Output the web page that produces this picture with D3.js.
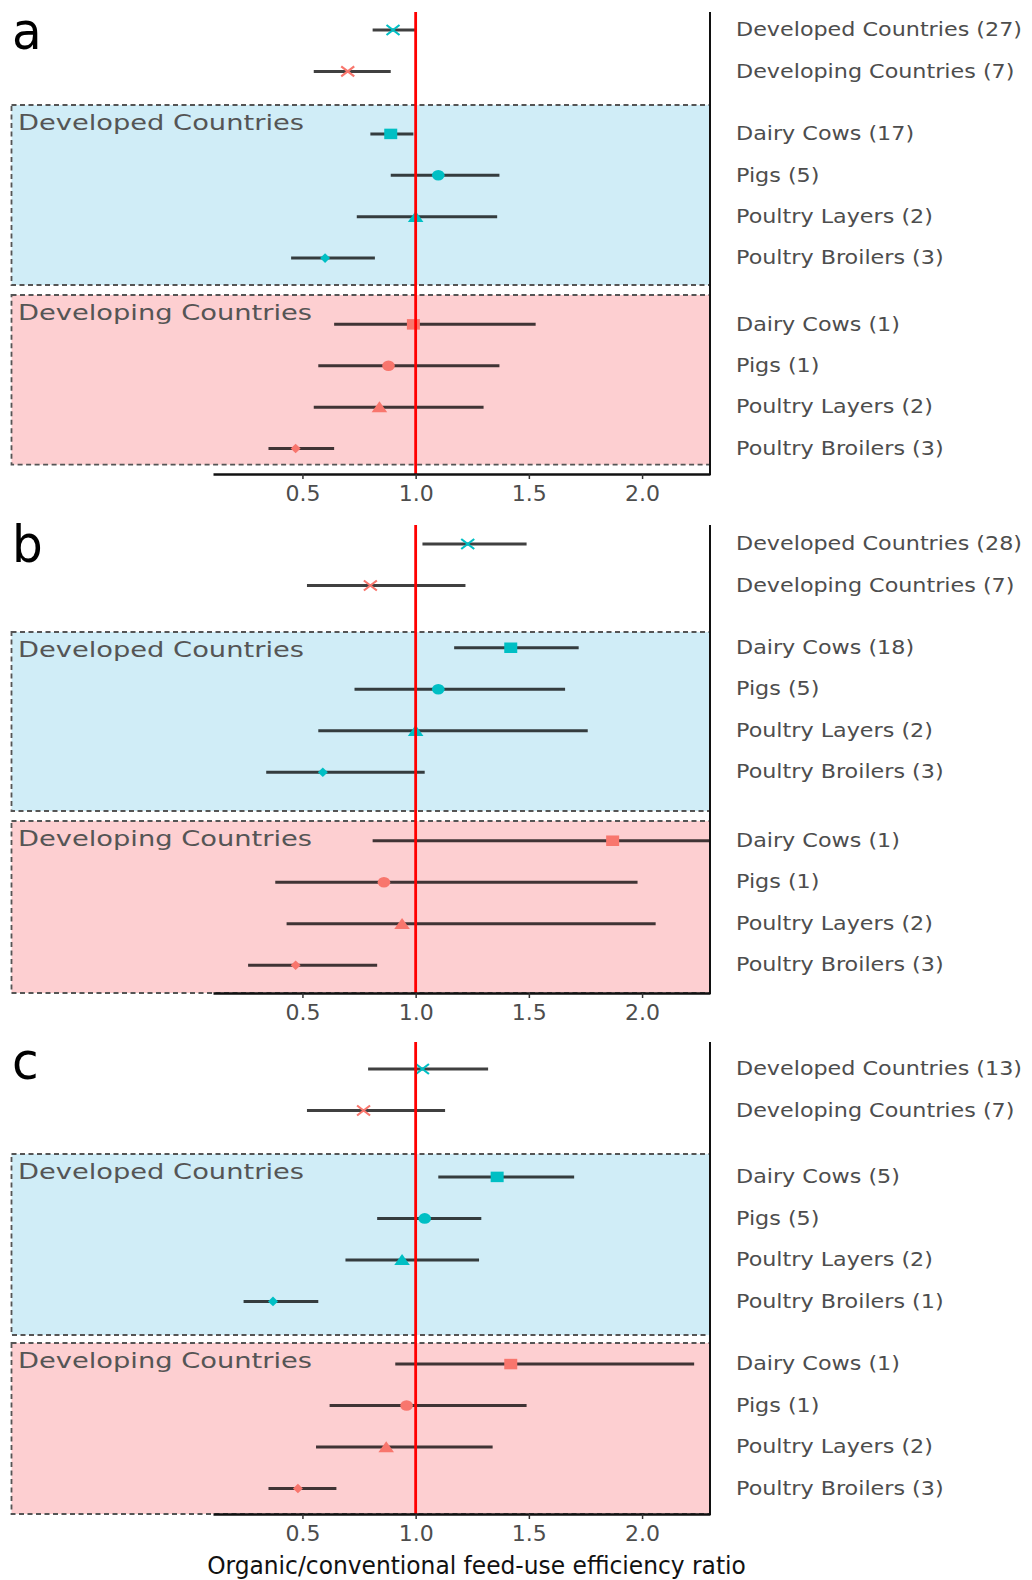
<!DOCTYPE html>
<html lang="en">
<head>
<meta charset="utf-8">
<title>Organic/conventional feed-use efficiency ratio</title>
<script src="https://d3js.org/d3.v7.min.js"></script>
<style>
  body { margin: 0; background: #fff; }
  svg { display: block; }
  .row-label { font-family: "DejaVu Sans", sans-serif; font-size: 20px; fill: #4d4d4d; }
  .box-label { font-family: "DejaVu Sans", sans-serif; font-size: 21px; fill: #555; }
  .panel-letter { font-family: "DejaVu Sans", sans-serif; font-size: 51px; fill: #000; }
  .tick text { font-family: "DejaVu Sans", sans-serif; font-size: 22px; fill: #4d4d4d; }
  .axis-title { font-family: "DejaVu Sans Condensed", "DejaVu Sans", sans-serif; font-stretch: condensed; font-size: 25px; fill: #111; }
</style>
</head>
<body>
<svg width="1032" height="1580"></svg>
<script>
// categories
const regions = ["Developed Countries", "Developing Countries"];
const species = ["Dairy Cows", "Pigs", "Poultry Layers", "Poultry Broilers"];
const panelNames = ["a", "b", "c"];
const tickValues = [0.5, 1.0, 1.5, 2.0];

// row order in every panel: developed, developing, then developed x 4 species, developing x 4 species
// number of studies
const countsA = [27, 7, 17, 5, 2, 3, 1, 1, 2, 3];
const countsB = [28, 7, 18, 5, 2, 3, 1, 1, 2, 3];
const countsC = [13, 7, 5, 5, 2, 1, 1, 1, 2, 3];

// mean ratio and confidence interval
const estA  = [0.90, 0.70, 0.89, 1.10, 1.00, 0.60, 0.99, 0.88, 0.84, 0.47];
const lowA  = [0.81, 0.55, 0.80, 0.89, 0.74, 0.45, 0.64, 0.57, 0.55, 0.35];
const highA = [1.00, 0.89, 0.99, 1.37, 1.36, 0.82, 1.53, 1.37, 1.30, 0.64];

const estB  = [1.23, 0.80, 1.42, 1.10, 1.00, 0.59, 1.87, 0.86, 0.94, 0.47];
const lowB  = [1.03, 0.52, 1.17, 0.73, 0.57, 0.34, 0.81, 0.38, 0.43, 0.26];
const highB = [1.49, 1.22, 1.72, 1.66, 1.76, 1.04, 2.60, 1.98, 2.06, 0.83];

const estC  = [1.03, 0.77, 1.36, 1.04, 0.94, 0.37, 1.42, 0.96, 0.87, 0.48];
const lowC  = [0.79, 0.52, 1.10, 0.83, 0.69, 0.24, 0.91, 0.62, 0.56, 0.35];
const highC = [1.32, 1.13, 1.70, 1.29, 1.28, 0.57, 2.23, 1.49, 1.34, 0.65];

const panelData = [
  {name: panelNames[0], n: countsA, est: estA, low: lowA, high: highA},
  {name: panelNames[1], n: countsB, est: estB, low: lowB, high: highB},
  {name: panelNames[2], n: countsC, est: estC, low: lowC, high: highC}
];

// layout of each stacked panel (pixels)
const layout = [
  {top: 12,   y0: 30,   step: 41.4, g1: 1.51, g2: 1.60, dev: [105, 285],   dvg: [295, 464.6], axisY: 474},
  {top: 525,  y0: 544,  step: 41.5, g1: 1.50, g2: 1.65, dev: [632, 811],   dvg: [821, 993],   axisY: 993},
  {top: 1042, y0: 1069, step: 41.5, g1: 1.60, g2: 1.51, dev: [1154, 1335], dvg: [1343, 1514], axisY: 1514}
];

const teal = "#00BFC4", salmon = "#F8766D";
const boxLeft = 11.5, plotRight = 710;

const svg = d3.select("svg");
const x = d3.scaleLinear().domain([0.105, 2.3]).range([213, plotRight]).clamp(true);

function shapePath(kind) {
  if (kind === "square") return "M-6.5,-5.25h13v10.5h-13Z";
  if (kind === "circle") return "M-6.3,0a6.3,5.3 0 1,0 12.6,0a6.3,5.3 0 1,0 -12.6,0Z";
  if (kind === "triangle") return "M0,-5.8L7.8,5.2L-7.8,5.2Z";
  if (kind === "diamond") return "M0,-4.8L5,0L0,4.8L-5,0Z";
  return "M-6.5,-5L6.5,5M6.5,-5L-6.5,5";
}
const shapes = ["cross", "cross", "square", "circle", "triangle", "diamond", "square", "circle", "triangle", "diamond"];

panelData.forEach(function(p, pi) {
  const L = layout[pi];
  const g = svg.append("g");
  const total = 7 + L.g1 + L.g2;
  const slots = [0, 1, 1 + L.g1, 2 + L.g1, 3 + L.g1, 4 + L.g1,
                 4 + L.g1 + L.g2, 5 + L.g1 + L.g2, 6 + L.g1 + L.g2, 7 + L.g1 + L.g2];
  const y = d3.scaleLinear().domain([0, total]).range([L.y0, L.y0 + L.step * total]);

  const rows = p.est.map(function(e, i) {
    let label, color;
    if (i < 2) { label = regions[i] + " (" + p.n[i] + ")"; color = i === 0 ? teal : salmon; }
    else { label = species[(i - 2) % 4] + " (" + p.n[i] + ")"; color = i < 6 ? teal : salmon; }
    return {label: label, color: color, est: e, low: p.low[i], high: p.high[i], slot: slots[i], shape: shapes[i]};
  });

  // shaded boxes
  const boxes = [
    {name: regions[0], fill: "#d0edf7", y: L.dev},
    {name: regions[1], fill: "#fdcfd1", y: L.dvg}
  ];
  g.selectAll("rect.box").data(boxes).enter().append("rect")
    .attr("class", "box")
    .attr("x", boxLeft).attr("y", d => d.y[0])
    .attr("width", plotRight - boxLeft).attr("height", d => d.y[1] - d.y[0])
    .attr("fill", d => d.fill)
    .attr("stroke", "#555").attr("stroke-width", 1.8).attr("stroke-dasharray", "5 3.5");
  g.selectAll("text.box-label").data(boxes).enter().append("text")
    .attr("class", "box-label")
    .attr("transform", d => "translate(18," + (d.y[0] + 17) + ") scale(1.3,1)")
    .attr("dy", "0.36em")
    .text(d => d.name);

  // confidence intervals
  g.selectAll("line.ci").data(rows).enter().append("line")
    .attr("class", "ci")
    .attr("x1", d => x(d.low)).attr("x2", d => x(d.high))
    .attr("y1", d => y(d.slot)).attr("y2", d => y(d.slot))
    .attr("stroke", "#000").attr("stroke-opacity", 0.75).attr("stroke-width", 3);

  // point estimates
  g.selectAll("path.pt").data(rows).enter().append("path")
    .attr("class", "pt")
    .attr("transform", d => "translate(" + x(d.est) + "," + y(d.slot) + ")")
    .attr("d", d => shapePath(d.shape))
    .attr("fill", d => d.shape === "cross" ? "none" : d.color)
    .attr("stroke", d => d.shape === "cross" ? d.color : "none")
    .attr("stroke-width", 2.2);

  // row labels on the right
  g.selectAll("text.row-label").data(rows).enter().append("text")
    .attr("class", "row-label")
    .attr("transform", d => "translate(736," + (y(d.slot) - 1) + ") scale(1.113,1)")
    .attr("dy", "0.36em")
    .text(d => d.label);

  // reference line at ratio 1
  g.append("line")
    .attr("x1", x(1)).attr("x2", x(1)).attr("y1", L.top).attr("y2", L.axisY)
    .attr("stroke", "#ff0000").attr("stroke-width", 2.8);

  // right frame line
  g.append("line")
    .attr("x1", plotRight).attr("x2", plotRight).attr("y1", L.top).attr("y2", L.axisY + 1)
    .attr("stroke", "#111").attr("stroke-width", 2);

  // x axis
  const ax = g.append("g")
    .attr("transform", "translate(0," + L.axisY + ")")
    .call(d3.axisBottom(x).tickValues(tickValues).tickFormat(d3.format(".1f"))
      .tickSizeInner(5).tickSizeOuter(0));
  ax.select(".domain").attr("stroke", "#111").attr("stroke-width", 2.5);
  ax.selectAll(".tick line").attr("stroke", "#333").attr("stroke-width", 1.5);
  ax.selectAll(".tick text").attr("y", 19).attr("dy", "0.36em");

  // panel letter
  g.append("text")
    .attr("class", "panel-letter")
    .attr("transform", "translate(12," + (L.top + 37) + ") scale(0.95,1)")
    .text(p.name);
});

// axis title
const title = svg.append("text")
  .attr("class", "axis-title")
  .attr("text-anchor", "middle")
  .attr("x", 476.5).attr("y", 1574)
  .text("Organic/conventional feed-use efficiency ratio");
const natural = title.node().getComputedTextLength();
title.attr("transform", "translate(476.5,0) scale(" + (539 / natural) + ",1) translate(-476.5,0)");
</script>
</body>
</html>
